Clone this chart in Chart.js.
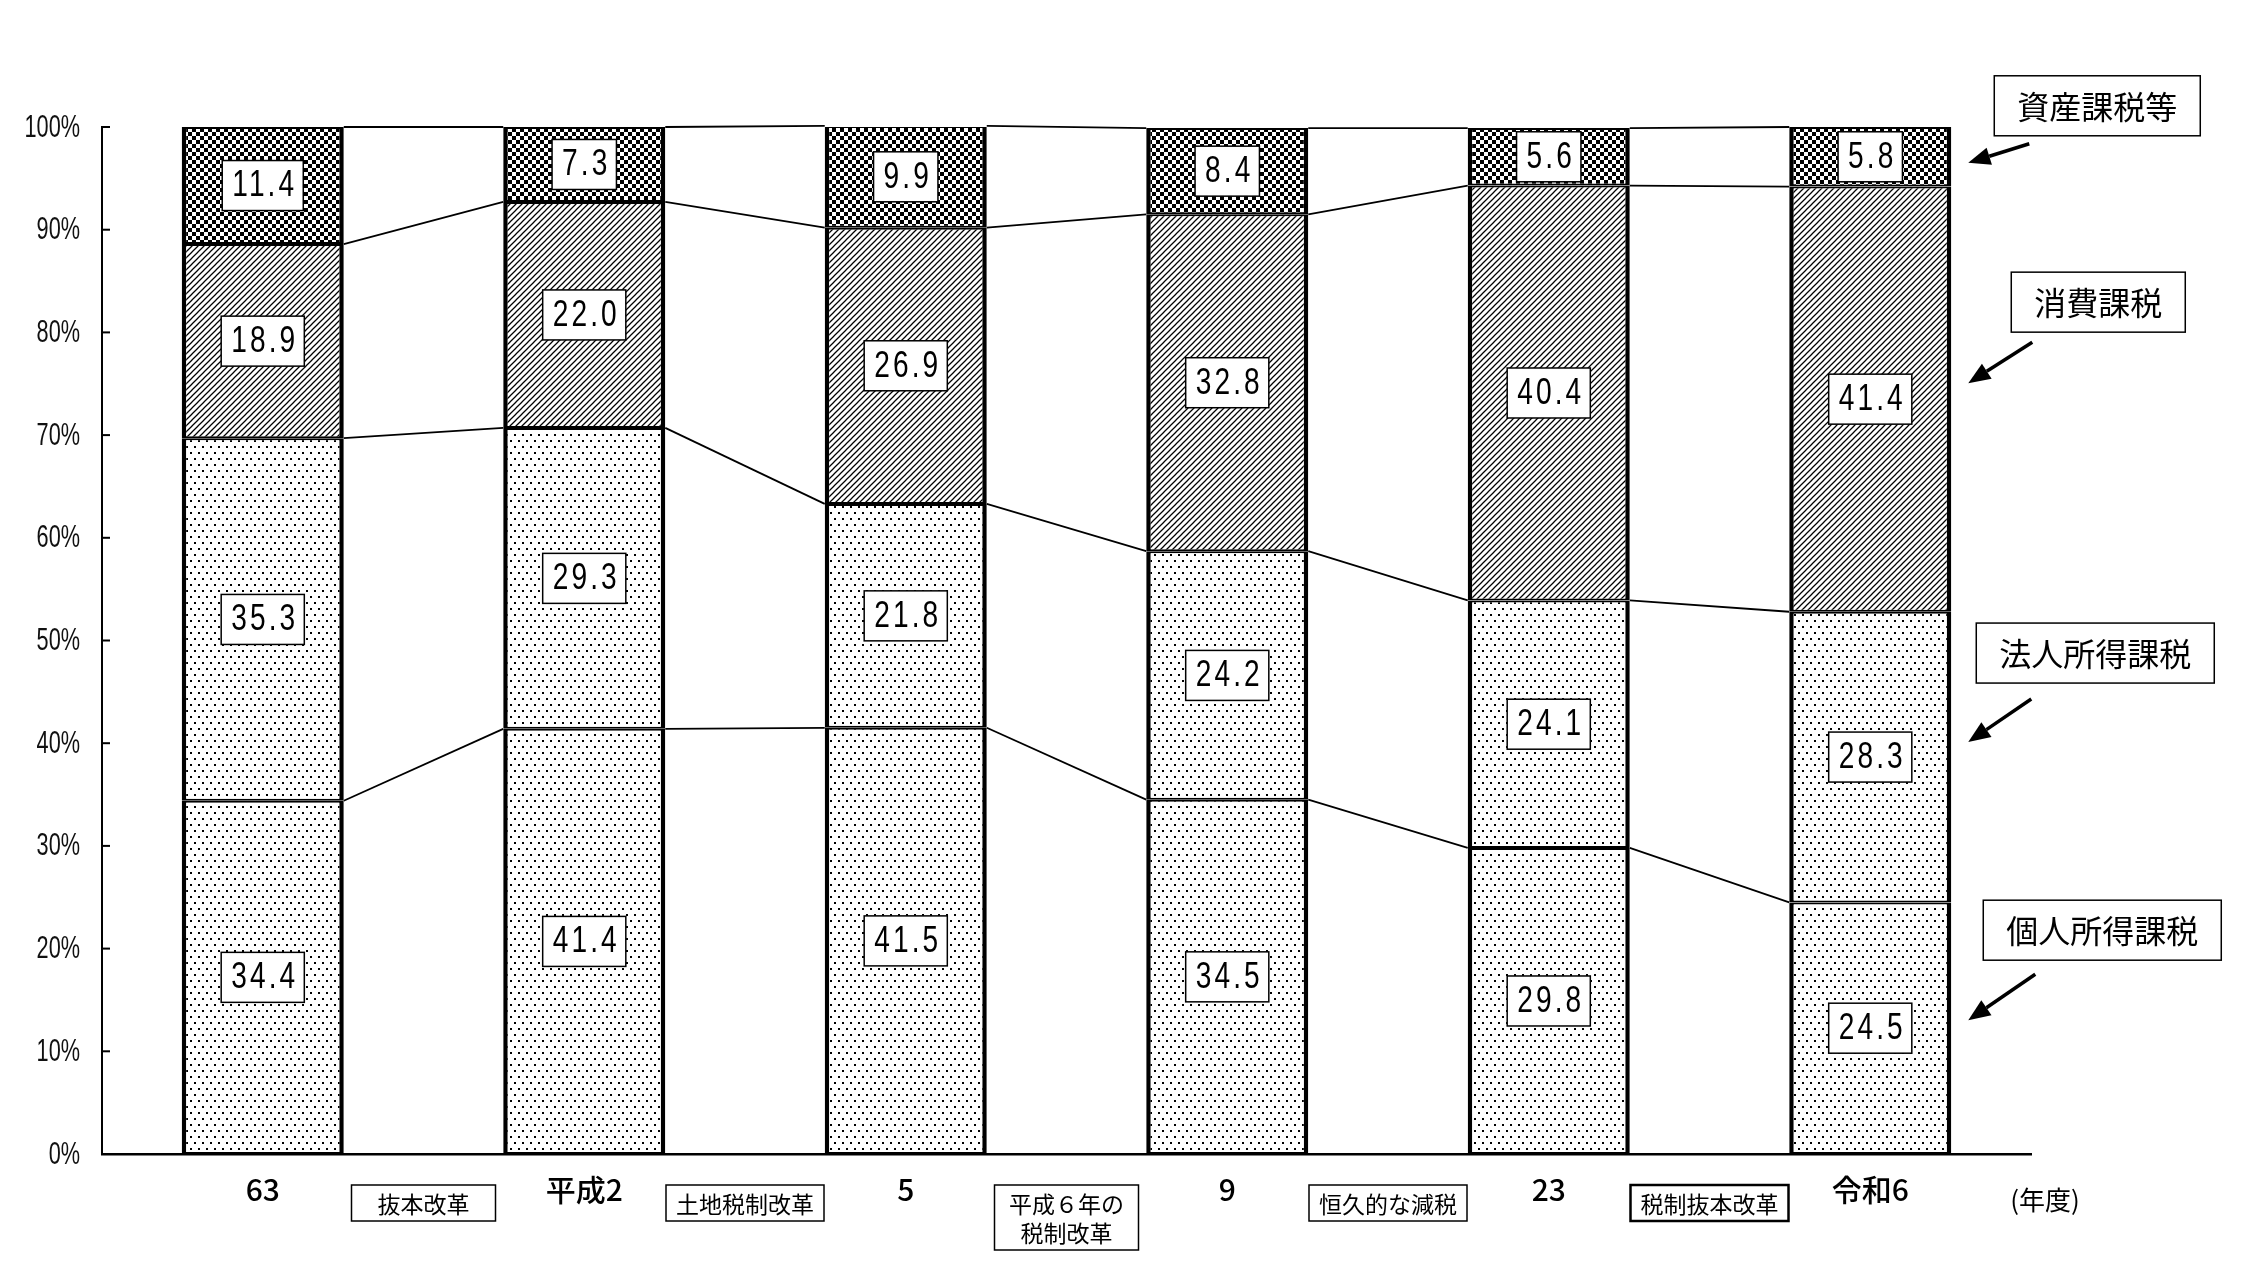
<!DOCTYPE html>
<html><head><meta charset="utf-8">
<script src="https://cdn.jsdelivr.net/npm/chart.js@4.4.1/dist/chart.umd.min.js"></script>
<style>html,body{margin:0;padding:0;background:#fff;overflow:hidden}canvas{display:block}</style>
</head><body>
<canvas id="c" width="2257" height="1283"></canvas>
<script>
// ---- data ----
const categories = ['63', '平成2', '5', '9', '23', '令和6'];
const kojin  = [34.4, 41.4, 41.5, 34.5, 29.8, 24.5];   // 個人所得課税
const hojin  = [35.3, 29.3, 21.8, 24.2, 24.1, 28.3];   // 法人所得課税
const shohi  = [18.9, 22.0, 26.9, 32.8, 40.4, 41.4];   // 消費課税
const shisan = [11.4, 7.3, 9.9, 8.4, 5.6, 5.8];        // 資産課税等
const seriesNames = ['個人所得課税', '法人所得課税', '消費課税', '資産課税等'];
const reforms = [['抜本改革'], ['土地税制改革'], ['平成６年の', '税制改革'], ['恒久的な減税'], ['税制抜本改革']];
const yTickValues = [0, 10, 20, 30, 40, 50, 60, 70, 80, 90, 100];
const unitLabel = '(年度)';

// ---- patterns ----
const mainCtx = document.getElementById('c').getContext('2d');
function mk(w, h, draw) {
  const c = document.createElement('canvas'); c.width = w; c.height = h;
  const g = c.getContext('2d');
  g.fillStyle = '#fff'; g.fillRect(0, 0, w, h);
  g.fillStyle = '#000'; g.strokeStyle = '#000';
  draw(g);
  return mainCtx.createPattern(c, 'repeat');
}
const dots = mk(8, 12, g => { g.fillRect(2, 2, 2, 2); g.fillRect(6, 8, 2, 2); });
const dots2 = mk(8, 12, g => { g.fillRect(2, 2, 2, 2); g.fillRect(6, 8, 2, 2); });
const hatch = mk(6, 6, g => {
  g.lineWidth = 1.25; g.beginPath();
  g.moveTo(-1, 7); g.lineTo(7, -1);
  g.moveTo(-1, 1); g.lineTo(1, -1);
  g.moveTo(5, 7); g.lineTo(7, 5);
  g.stroke();
});
const checker = mk(8, 8, g => { g.fillRect(0, 0, 4, 4); g.fillRect(4, 4, 4, 4); });

const seriesValues = [kojin, hojin, shohi, shisan];
const fills = [dots, dots2, hatch, checker];

const SANS = "'Liberation Sans', Arial, sans-serif";
const JP = "'Noto Sans CJK JP', 'Noto Sans CJK SC', sans-serif";

// callout layout (offsets relative to last bar segment)
const callout = [
  { dy: -8,  tail: [67, -46], box: [134, -90] },
  { dy: -15, tail: [63, -43], box: [127, -89] },
  { dy: -16, tail: [64, -41], box: [130, -81] },
  { dy: 6,   tail: [61, -19], box: [129, -57] }
];

function setSpacing(ctx, s) { try { ctx.letterSpacing = s + 'px'; } catch (e) {} }
// narrow text: horizontally compressed sans
function narrowWidth(ctx, txt, size, sx, spacing) {
  ctx.save(); ctx.font = size + 'px ' + SANS; setSpacing(ctx, spacing);
  const w = ctx.measureText(txt).width * sx; ctx.restore(); return w;
}
function narrowText(ctx, txt, x, y, size, sx, spacing, align) {
  ctx.save(); ctx.translate(x, y); ctx.scale(sx, 1);
  ctx.font = size + 'px ' + SANS; setSpacing(ctx, spacing);
  ctx.textAlign = align; ctx.textBaseline = 'middle';
  ctx.fillText(txt, 0, 0); ctx.restore();
}

function arrow(ctx, x1, y1, x2, y2) {
  const ang = Math.atan2(y2 - y1, x2 - x1);
  const L = 22, W = 9;
  const bx = x2 - L * Math.cos(ang), by = y2 - L * Math.sin(ang);
  ctx.beginPath(); ctx.moveTo(x1, y1); ctx.lineTo(bx, by); ctx.lineWidth = 3.5; ctx.stroke();
  ctx.beginPath();
  ctx.moveTo(x2, y2);
  ctx.lineTo(bx + W * Math.sin(ang), by - W * Math.cos(ang));
  ctx.lineTo(bx - W * Math.sin(ang), by + W * Math.cos(ang));
  ctx.closePath(); ctx.fill();
}

const deco = {
  id: 'deco',
  afterDatasetsDraw(chart) {
    const ctx = chart.ctx, ys = chart.scales.y, ca = chart.chartArea;
    ctx.save();
    ctx.strokeStyle = '#000'; ctx.fillStyle = '#000';
    // connector lines
    ctx.lineWidth = 1.8;
    for (let d = 0; d < seriesValues.length; d++) {
      const meta = chart.getDatasetMeta(d);
      for (let i = 0; i < meta.data.length - 1; i++) {
        const a = meta.data[i], b = meta.data[i + 1];
        ctx.beginPath();
        ctx.moveTo(a.x + a.width / 2, a.y);
        ctx.lineTo(b.x - b.width / 2, b.y);
        ctx.stroke();
      }
    }
    // inward tick marks + tick labels
    ctx.lineWidth = 2;
    yTickValues.forEach(v => {
      const y = ys.getPixelForValue(v);
      ctx.beginPath(); ctx.moveTo(ca.left, y); ctx.lineTo(ca.left + 8, y); ctx.stroke();
      ctx.fillStyle = '#111';
      narrowText(ctx, v + '%', ca.left - 22, y + 1, 31, 0.7, 0, 'right');
    });
    // value boxes
    for (let d = 0; d < seriesValues.length; d++) {
      const meta = chart.getDatasetMeta(d);
      meta.data.forEach((bar, i) => {
        const txt = seriesValues[d][i].toFixed(1);
        const tw = narrowWidth(ctx, txt, 36, 0.78, 4);
        const w = tw + 16, h = 50;
        const cx = bar.x, cy = (bar.y + bar.base) / 2;
        ctx.fillStyle = '#fff';
        ctx.fillRect(cx - w / 2, cy - h / 2, w, h);
        ctx.lineWidth = 1.5; ctx.strokeStyle = '#000';
        ctx.strokeRect(cx - w / 2, cy - h / 2, w, h);
        ctx.fillStyle = '#000';
        narrowText(ctx, txt, cx + 2, cy + 1, 36, 0.78, 4, 'center');
      });
    }
    ctx.restore();
  },
  afterDraw(chart) {
    const ctx = chart.ctx, xs = chart.scales.x, ca = chart.chartArea;
    ctx.save();
    ctx.strokeStyle = '#000'; ctx.fillStyle = '#000';
    // reform boxes between categories
    ctx.font = '23px ' + JP;
    ctx.textAlign = 'center'; ctx.textBaseline = 'middle';
    reforms.forEach((lines, i) => {
      const cx = (xs.getPixelForValue(i) + xs.getPixelForValue(i + 1)) / 2;
      const tw = Math.max(...lines.map(l => ctx.measureText(l).width));
      const w = Math.max(tw + 20, 144);
      const h = lines.length === 1 ? 36 : 65;
      const top = ca.bottom + 31;
      ctx.fillStyle = '#fff';
      ctx.fillRect(cx - w / 2, top, w, h);
      ctx.lineWidth = i === reforms.length - 1 ? 2.5 : 1.5;
      ctx.strokeRect(cx - w / 2, top, w, h);
      ctx.fillStyle = '#000';
      lines.forEach((l, k) => {
        const ly = lines.length === 1 ? top + h / 2 : top + 18 + k * 29;
        ctx.fillText(l, cx, ly + 1);
      });
    });
    // unit label
    ctx.font = '26px ' + JP;
    ctx.fillText(unitLabel, ca.right + 14, ca.bottom + 46);
    // callouts on the right
    ctx.font = '32px ' + JP;
    for (let d = 0; d < seriesNames.length; d++) {
      const meta = chart.getDatasetMeta(d);
      const bar = meta.data[meta.data.length - 1];
      const cyc = (bar.y + bar.base) / 2;
      const tipX = bar.x + bar.width / 2 + 17, tipY = cyc + callout[d].dy;
      const c = callout[d];
      arrow(ctx, tipX + c.tail[0], tipY + c.tail[1], tipX, tipY);
      const bx = tipX + c.box[0], by = tipY + c.box[1];
      const tw = ctx.measureText(seriesNames[d]).width;
      const w = tw + 46, h = 60;
      ctx.fillStyle = '#fff';
      ctx.fillRect(bx - w / 2, by - h / 2, w, h);
      ctx.lineWidth = 1.5;
      ctx.strokeRect(bx - w / 2, by - h / 2, w, h);
      ctx.fillStyle = '#000';
      ctx.fillText(seriesNames[d], bx, by + 1);
    }
    ctx.restore();
  }
};

const datasets = seriesValues.map((vals, d) => ({
  label: seriesNames[d],
  data: vals,
  backgroundColor: fills[d],
  borderColor: '#000',
  borderWidth: { top: 2, bottom: 2, left: 4.5, right: 4.5 },
  borderSkipped: false,
  barPercentage: 0.504,
  categoryPercentage: 1.0
}));

new Chart(mainCtx, {
  type: 'bar',
  data: { labels: categories, datasets },
  plugins: [deco],
  options: {
    responsive: false,
    animation: false,
    devicePixelRatio: 1,
    layout: { padding: { left: 0, right: 226, top: 127, bottom: 0 } },
    plugins: { legend: { display: false }, tooltip: { enabled: false } },
    scales: {
      x: {
        stacked: true,
        grid: { display: false, drawTicks: false },
        border: { display: true, color: '#000', width: 2.5 },
        ticks: { color: '#000', font: { family: JP, size: 30, weight: '500' }, padding: 18, maxRotation: 0, autoSkip: false },
        afterFit(s) { s.height = 129; }
      },
      y: {
        stacked: true,
        min: 0, max: 100,
        afterBuildTicks(s) { s.ticks = yTickValues.map(v => ({ value: v })); },
        grid: { display: false, drawTicks: false },
        border: { display: true, color: '#000', width: 2 },
        ticks: { display: false },
        afterFit(s) { s.width = 102; }
      }
    }
  }
});
</script>
</body></html>
